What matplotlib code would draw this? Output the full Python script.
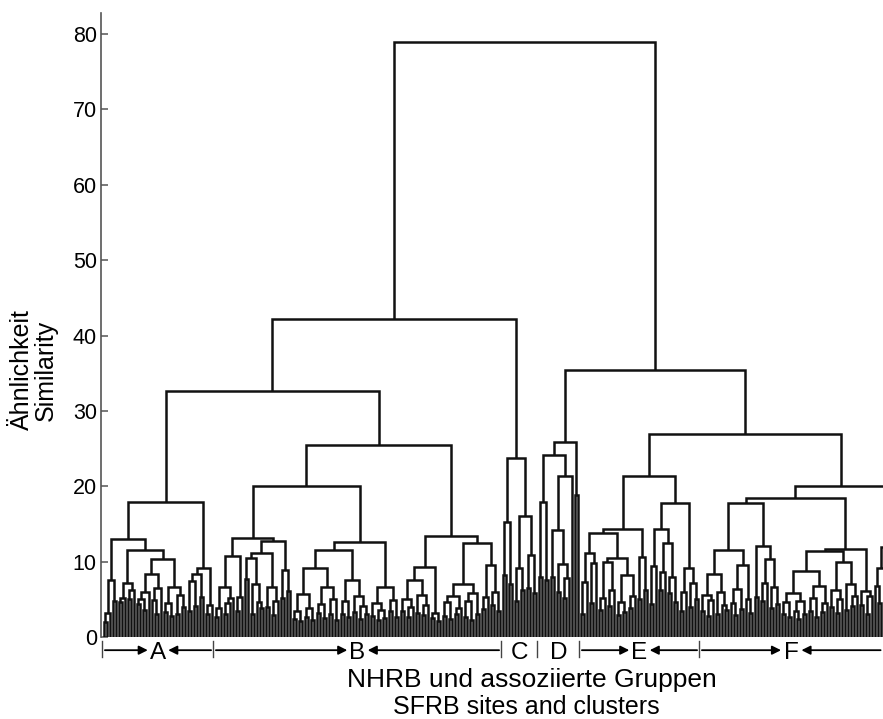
import numpy as np
import matplotlib
matplotlib.use("Agg")
import matplotlib.pyplot as plt
from matplotlib.collections import LineCollection

plt.rcParams['font.family'] = ['Liberation Sans', 'DejaVu Sans']

# =========================
# DATA
# merge height between each pair of neighbouring sites, left to right
# =========================
section_names = ["A", "B", "C", "D", "E", "F"]
section_arrows = [True, True, False, False, True, True]

gaps_A = [2.0, 3.2, 7.5, 4.8, 13.0, 4.6, 5.2, 7.2, 5.0, 6.2, 11.5,
          4.4, 5.0, 3.6, 6.0, 8.4, 4.9, 3.0, 6.5, 10.3,
          3.3, 4.5, 2.8, 6.7, 3.0, 5.6, 4.0, 17.9,
          3.4, 7.4, 4.1, 8.4, 5.3, 9.2, 3.0, 4.2]

gaps_B = [2.6, 3.9, 6.7, 3.1, 4.5, 5.2, 10.7, 3.4, 5.3, 13.2,
          7.7, 10.5, 3.0, 7.0, 4.6, 3.8, 11.1, 4.0, 6.7, 2.9, 4.8, 12.8, 5.2, 8.9, 6.1, 20.0,
          2.4, 3.5, 2.1, 5.7, 2.7, 3.9, 2.3, 9.1, 3.2, 4.4, 2.5, 6.7, 3.0, 5.0, 2.2, 11.6,
          3.1, 4.8, 2.6, 7.5, 3.3, 5.4, 2.4, 4.1, 3.0, 12.6,
          2.8, 4.5, 2.2, 3.6, 2.5, 6.7, 3.4, 4.9, 2.7, 25.5,
          3.4, 5.1, 2.6, 4.0, 7.6, 3.2, 5.6, 2.9, 4.3, 9.3, 2.5, 3.2, 2.1, 13.4,
          2.8, 4.6, 2.4, 5.5, 3.0, 3.9, 7.0, 2.7, 4.8, 2.3, 5.9, 3.1, 12.5,
          3.7, 5.3, 9.5, 4.2, 6.0, 3.5]

gaps_C = [8.2, 15.2, 7.0, 23.7, 4.8, 9.2, 6.2, 16.0, 6.5, 10.9, 5.8]

gaps_D = [8.0, 17.9, 7.6, 24.1, 8.0, 14.2, 6.0, 9.7, 5.2, 7.8, 21.4, 25.9, 18.8]

gaps_E = [3.0, 7.3, 11.2, 4.5, 9.8, 13.8,
          3.6, 5.2, 9.9, 4.1, 6.3, 10.5, 2.9, 4.7, 3.3, 8.2, 3.8, 5.5, 14.3,
          5.0, 10.6, 6.3, 21.4,
          4.4, 9.4, 14.3, 6.2, 8.6, 12.5, 5.8, 7.9, 4.6, 17.8,
          3.5, 6.0, 9.2, 4.0, 7.1, 5.0]

gaps_F = [3.4, 5.6, 2.8, 4.9, 8.4, 3.1, 6.0, 4.2, 3.6, 11.5,
          4.5, 2.9, 6.4, 3.7, 9.5, 5.1, 3.2, 17.8,
          5.3, 12.1, 4.8, 7.2, 10.3, 3.9, 6.6, 4.4, 18.5,
          3.0, 4.6, 2.6, 5.9, 3.4, 2.4, 4.8, 3.1, 8.7, 3.5, 5.2, 2.7, 6.8, 3.3, 4.5, 11.4,
          4.0, 6.2, 3.2, 5.0, 9.9, 3.6, 7.0, 4.1, 5.5, 11.7,
          4.3, 6.1, 3.0, 5.4, 20.0,
          6.8, 4.5, 9.1, 12.0, 5.6, 11.8, 4.0, 7.5, 5.2]

# heights where neighbouring sections join: A|B, B|C, C|D, D|E, E|F
joins = [32.7, 42.2, 79.0, 35.4, 27.0]

y_ticks = [0, 10, 20, 30, 40, 50, 60, 70, 80]

# =========================
# BUILD TREE
# =========================
section_gaps = [gaps_A, gaps_B, gaps_C, gaps_D, gaps_E, gaps_F]
heights = []
bounds = [0]
for k, g in enumerate(section_gaps):
    heights += g
    bounds.append(bounds[-1] + len(g) + 1)
    if k < len(joins):
        heights.append(joins[k])
heights = np.array(heights)
n_leaves = len(heights) + 1

segments = []


def build(lo, hi):
    # split the leaf range at its highest neighbour gap
    if lo == hi:
        return float(lo), 0.0
    k = lo + int(np.argmax(heights[lo:hi]))
    h = heights[k]
    xl, hl = build(lo, k)
    xr, hr = build(k + 1, hi)
    segments.append([(xl, hl), (xl, h), (xr, h), (xr, hr)])
    return (xl + xr) / 2, h


build(0, n_leaves - 1)

# =========================
# PLOT
# =========================
fig = plt.figure(figsize=(8.83, 7.19), dpi=100)
ax = fig.add_axes([101 / 883, 82 / 719, 782 / 883, 624 / 719])

lc = LineCollection(segments, colors="#111111", linewidths=1.8,
                    joinstyle="miter", capstyle="butt")
ax.add_collection(lc)

xmax = 259.67
ax.set_xlim(-1, xmax)
ax.set_ylim(0, 82.8)

for s in ["top", "right", "bottom"]:
    ax.spines[s].set_visible(False)
ax.spines["left"].set_color("#555555")
ax.spines["left"].set_linewidth(1.2)

ax.set_xticks([])
ax.set_yticks(y_ticks)
ax.tick_params(axis="y", direction="in", length=5, width=1.1,
               color="#555555", labelsize=15.5, pad=3)

fig.text(34 / 883, 1 - 370 / 719, "Ähnlichkeit\nSimilarity", fontsize=18,
         rotation=90, ha="center", va="center", linespacing=1.0)

# section markers below the leaves
y_arrow = -1.75
for k, name in enumerate(section_names):
    start = bounds[k] - 0.5
    end = min(bounds[k + 1] - 0.5, xmax)
    mid = (start + end) / 2
    ax.plot([start, start], [-0.5, -2.7], color="#444444", lw=1.0,
            clip_on=False)
    ax.text(mid, -2.1, name, fontsize=17.5, ha="center", va="center")
    if section_arrows[k]:
        arrow = dict(arrowstyle="-|>", color="black", lw=1.3,
                     mutation_scale=13, shrinkA=0, shrinkB=0)
        ax.annotate("", xy=(mid - 3.4, y_arrow), xytext=(start + 0.8, y_arrow),
                    arrowprops=arrow, annotation_clip=False)
        ax.annotate("", xy=(mid + 3.4, y_arrow), xytext=(end - 0.8, y_arrow),
                    arrowprops=arrow, annotation_clip=False)

fig.text(532 / 883, 1 - 680 / 719, "NHRB und assoziierte Gruppen",
         fontsize=19, ha="center", va="center")
fig.text(526 / 883, 1 - 707 / 719, "SFRB sites and clusters",
         fontsize=18, ha="center", va="center")

fig.savefig("out.png", dpi=100)
